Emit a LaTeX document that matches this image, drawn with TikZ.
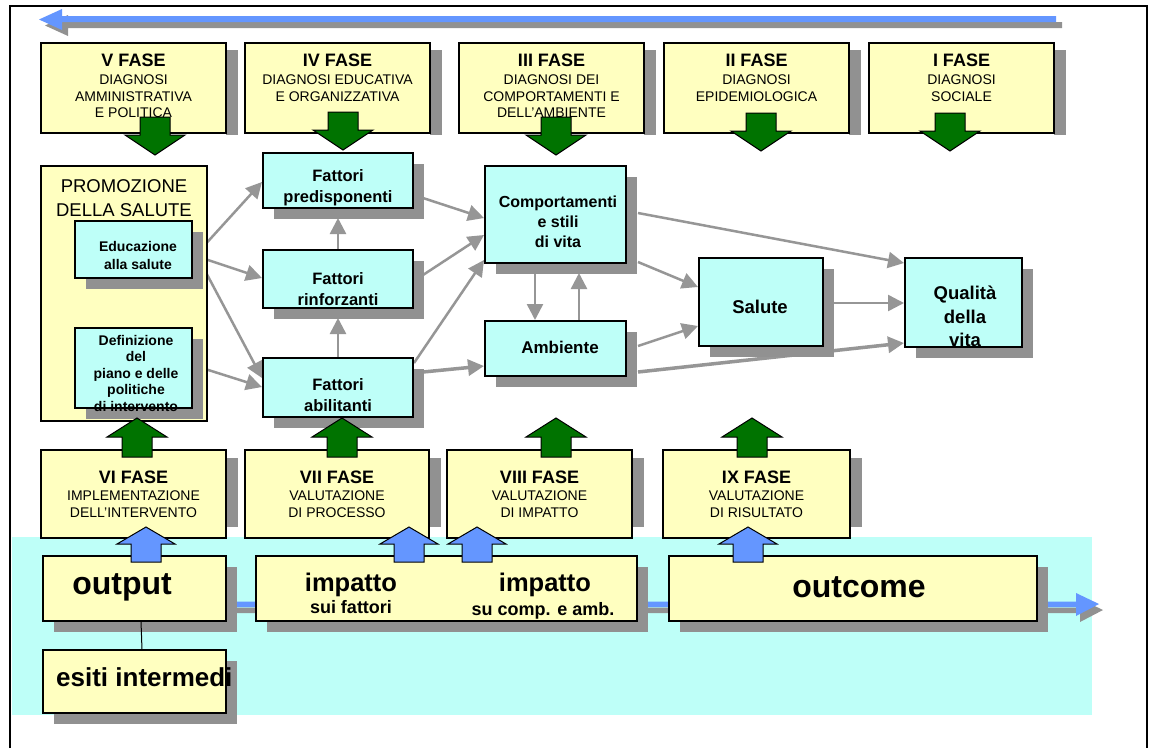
\documentclass[tikz,border=0pt]{standalone}
\usepackage{fontspec}
\setmainfont{Liberation Sans}
\usetikzlibrary{arrows.meta,calc,shadows}
\definecolor{yel}{RGB}{255,255,192}
\definecolor{cya}{RGB}{190,255,248}
\definecolor{shc}{RGB}{145,145,145}
\definecolor{arc}{RGB}{150,150,150}
\definecolor{grn}{RGB}{0,115,0}
\definecolor{blu}{RGB}{100,150,255}
\pgfdeclarelayer{bglayer}
\pgfdeclarelayer{edgelayer}
\pgfsetlayers{bglayer,edgelayer,main}
\newcommand\phT{\fontsize{18}{20}\selectfont\bfseries}
\newcommand\phS{\fontsize{14}{16.5}\selectfont}
\newcommand\mkbox[6]{\node[#1,anchor=north west,minimum width={#5-#3},minimum height={#6-#4}] (#2) at (#3,#4) {};}
\tikzset{
  ybox/.style={draw=black, fill=yel, line width=1.5pt, inner sep=0pt, outer sep=0pt},
  ysbox/.style={ybox, drop shadow={shadow xshift=11pt, shadow yshift=-11pt, fill=shc, opacity=1}},
  cbox/.style={draw=black, fill=cya, line width=1.5pt, inner sep=0pt, outer sep=0pt,
     drop shadow={shadow xshift=11pt, shadow yshift=-11pt, fill=shc, opacity=1}},
  txt/.style={inner sep=0pt, align=center},
  garr/.style={draw=arc, line width=2.5pt, -{Triangle[length=16pt,width=16pt]}},
  garrT/.style={garr, line width=3.5pt},
  gdown/.pic={\filldraw[fill=grn,draw=black,line width=1pt] (0,0) -- (-30,-20) -- (-15,-20) -- (-15,-38) -- (15,-38) -- (15,-20) -- (30,-20) -- cycle;},
  gup/.pic={\filldraw[fill=grn,draw=black,line width=1pt] (0,0) -- (30,19) -- (15,19) -- (15,39) -- (-15,39) -- (-15,19) -- (-30,19) -- cycle;},
  bup/.pic={\filldraw[fill=blu,draw=black,line width=1pt] (0,0) -- (29,17) -- (15,17) -- (15,35) -- (-15,35) -- (-15,17) -- (-29,17) -- cycle;}
}
\begin{document}
\begin{tikzpicture}[x=1pt,y=-1pt]
\useasboundingbox (0,0) rectangle (1151,748);
% background band and bottom arrow
\begin{pgfonlayer}{bglayer}
\fill[white] (0,0) rectangle (1151,748);
\fill[cya] (12,537) rectangle (1092,715);
\fill[shc,shift={(4,6)}] (200,601.5) -- (1076,601.5) -- (1076,593) -- (1099,604) -- (1076,616) -- (1076,607) -- (200,607) -- cycle;
\fill[blu] (200,601.5) -- (1076,601.5) -- (1076,593) -- (1099,604) -- (1076,616) -- (1076,607) -- (200,607) -- cycle;
\end{pgfonlayer}
% frame
\draw[line width=1.5pt] (10,748) -- (10,6) -- (1147,6) -- (1147,748);
% top blue arrow
\fill[shc,shift={(6,6)}] (1056,16) -- (62,16) -- (62,9) -- (39,19.5) -- (62,30) -- (62,22) -- (1056,22) -- cycle;
\fill[blu] (1056,16) -- (62,16) -- (62,9) -- (39,19.5) -- (62,30) -- (62,22) -- (1056,22) -- cycle;

% top phase boxes
\mkbox{ybox}{V}{41}{43}{226}{133}
\mkbox{ybox}{IV}{245}{43}{430}{133}
\mkbox{ybox}{III}{459}{43}{644}{133}
\mkbox{ybox}{II}{664}{43}{849}{133}
\mkbox{ybox}{I}{869}{43}{1054}{133}
\node[txt,font=\phT] (Vt) at (133.5,60) {V FASE};
\node[txt,font=\phS] (Vs) at (133.5,96.5) {DIAGNOSI\\AMMINISTRATIVA\\E POLITICA};
\node[txt,font=\phT] (IVt) at (337.5,60) {IV FASE};
\node[txt,font=\phS] (IVs) at (337.5,88.25) {DIAGNOSI EDUCATIVA\\E ORGANIZZATIVA};
\node[txt,font=\phT] (IIIt) at (551.5,60) {III FASE};
\node[txt,font=\phS] (IIIs) at (551.5,96.5) {DIAGNOSI DEI\\COMPORTAMENTI E\\DELL’AMBIENTE};
\node[txt,font=\phT] (IIt) at (756.5,60) {II FASE};
\node[txt,font=\phS] (IIs) at (756.5,88.25) {DIAGNOSI\\EPIDEMIOLOGICA};
\node[txt,font=\phT] (It) at (961.5,60) {I FASE};
\node[txt,font=\phS] (Is) at (961.5,88.25) {DIAGNOSI\\SOCIALE};

% promotion box
\mkbox{ybox}{promo}{41}{166}{207}{421}
\node[txt,font=\fontsize{18.5}{24}\selectfont] (promot) at (124,198) {PROMOZIONE\\DELLA SALUTE};
\mkbox{cbox}{edu}{75}{221}{192}{278}
\node[txt,font=\fontsize{14}{18}\selectfont\bfseries] (edut) at (138,255) {Educazione\\alla salute};
\mkbox{cbox}{def}{75}{328}{192}{408}
\node[txt,font=\fontsize{14}{16.5}\selectfont\bfseries] (deft) at (136,373) {Definizione\\del\\piano e delle\\politiche\\di intervento};

% fattori
\mkbox{cbox}{pred}{263}{153}{413}{208}
\node[txt,font=\fontsize{16.5}{21}\selectfont\bfseries] (predt) at (338,188) {Fattori\\predisponenti};
\mkbox{cbox}{rinf}{263}{250}{413}{308}
\node[txt,font=\fontsize{16.5}{21}\selectfont\bfseries] (rinft) at (338,289) {Fattori\\rinforzanti};
\mkbox{cbox}{abil}{263}{358}{413}{417}
\node[txt,font=\fontsize{16.5}{21}\selectfont\bfseries] (abilt) at (338,395) {Fattori\\abilitanti};

% middle / right
\mkbox{cbox}{comp}{485}{166}{626}{263}
\node[txt,font=\fontsize{16}{20}\selectfont\bfseries] (compt) at (558,222) {Comportamenti\\e stili\\di vita};
\mkbox{cbox}{amb}{485}{321}{626}{376}
\node[txt,font=\fontsize{17}{20}\selectfont\bfseries] (ambt) at (560,347) {Ambiente};
\mkbox{cbox}{sal}{699}{258}{823}{346}
\node[txt,font=\fontsize{18.5}{22}\selectfont\bfseries] (salt) at (760,307) {Salute};
\mkbox{cbox}{qual}{905}{258}{1022}{347}
\node[txt,font=\fontsize{18.5}{23.5}\selectfont\bfseries] (qualt) at (965,316.5) {Qualità\\della\\vita};

% lower phase boxes
\mkbox{ybox}{VI}{41}{450}{226}{538}
\mkbox{ybox}{VII}{245}{450}{429}{538}
\mkbox{ybox}{VIII}{447}{450}{632}{538}
\mkbox{ybox}{IX}{663}{450}{850}{538}
\node[txt,font=\phT] (VIt) at (133.5,477) {VI FASE};
\node[txt,font=\phS] (VIs) at (133.5,504) {IMPLEMENTAZIONE\\DELL’INTERVENTO};
\node[txt,font=\phT] (VIIt) at (337,477) {VII FASE};
\node[txt,font=\phS] (VIIs) at (337,504) {VALUTAZIONE\\DI PROCESSO};
\node[txt,font=\phT] (VIIIt) at (539.5,477) {VIII FASE};
\node[txt,font=\phS] (VIIIs) at (539.5,504) {VALUTAZIONE\\DI IMPATTO};
\node[txt,font=\phT] (IXt) at (756.5,477) {IX FASE};
\node[txt,font=\phS] (IXs) at (756.5,504) {VALUTAZIONE\\DI RISULTATO};

% bottom result boxes
\mkbox{ysbox}{out}{43}{556}{226}{621}
\node[txt,font=\fontsize{32}{34}\selectfont\bfseries] (outt) at (122,587) {output};
\mkbox{ysbox}{esiti}{43}{650}{226}{713}
\node[txt,anchor=west,font=\fontsize{26}{28}\selectfont\bfseries] (esitit) at (56,677) {esiti intermedi};
\mkbox{ysbox}{imp}{256}{556}{637}{621}
\node[txt,font=\fontsize{25.5}{28}\selectfont\bfseries] (imp1) at (351,585) {impatto};
\node[txt,font=\fontsize{18}{20}\selectfont\bfseries] (imp1s) at (351,607) {sui fattori};
\node[txt,font=\fontsize{25.5}{28}\selectfont\bfseries] (imp2) at (545,585) {impatto};
\node[txt,font=\fontsize{18}{20}\selectfont\bfseries] (imp2s) at (543,611) {su comp. e amb.};
\mkbox{ysbox}{outc}{669}{556}{1037}{621}
\node[txt,font=\fontsize{32}{34}\selectfont\bfseries] (outct) at (859,587) {outcome};
\draw[line width=1pt] ($(out.south west)+(98,0)$) -- ($(esiti.north west)+(99,0)$);

% phase box shadow strips and connectors
\begin{pgfonlayer}{edgelayer}
\foreach \n in {V,IV,III,II,I}
  \fill[shc] ($(\n.north east)+(0,7)$) rectangle ($(\n.south east)+(12,2)$);
\foreach \n in {VI,VII,VIII,IX}
  \fill[shc] ($(\n.north east)+(0,8)$) rectangle ($(\n.south east)+(12,-11)$);
\draw[garr] ($(edu.north east)+(10,27)$) -- ($(pred.north west)+(-1,29)$);
\draw[garr] ($(edu.north east)+(10,37)$) -- ($(rinf.north west)+(-1,28)$);
\draw[garr] ($(edu.north east)+(10,44)$) -- ($(abil.north west)+(-1,20)$);
\draw[garr] ($(def.north east)+(10,40)$) -- ($(abil.north west)+(-1,29)$);
\draw[garr] ($(edu.south west)+(50,11)$) -- ($(def.north west)+(50,-1)$);
\draw[garr] ($(def.north west)+(75,0)$) -- ($(edu.south west)+(75,10)$);
\draw[garr] ($(rinf.north west)+(75,0)$) -- ($(pred.south west)+(75,10)$);
\draw[garr] ($(abil.north west)+(75,0)$) -- ($(rinf.south west)+(75,10)$);
\draw[garr] ($(pred.north east)+(10,45)$) -- ($(comp.north west)+(-1,52)$);
\draw[garr] ($(rinf.north east)+(10,25)$) -- ($(comp.north west)+(-1,69)$);
\draw[garr] ($(abil.north east)+(1,5)$) -- ($(comp.north west)+(-1,94)$);
\draw[garrT] ($(abil.north east)+(10,14)$) -- ($(amb.north west)+(-1,45)$);
\draw[garr] ($(comp.south west)+(50,10)$) -- ($(amb.north west)+(50,-1)$);
\draw[garr] ($(amb.north west)+(94,0)$) -- ($(comp.south west)+(94,10)$);
\draw[garr] ($(comp.north east)+(12,96)$) -- ($(sal.north west)+(-1,29)$);
\draw[garr] ($(amb.north east)+(12,25)$) -- ($(sal.north west)+(-1,68)$);
\draw[garr] ($(comp.north east)+(12,47)$) -- ($(qual.north west)+(-1,5)$);
\draw[garr] ($(sal.north east)+(11,45)$) -- ($(qual.north west)+(-1,45)$);
\draw[garrT] ($(amb.north east)+(12,51)$) -- ($(qual.north west)+(-1,85)$);
\end{pgfonlayer}

% green block arrows (top, pointing down)
\pic at (155,155) {gdown};
\pic at (343,150) {gdown};
\pic at (556,155) {gdown};
\pic at (761,151) {gdown};
\pic at (950,151) {gdown};
% green block arrows (pointing up)
\pic at (137,418) {gup};
\pic at (342,418) {gup};
\pic at (556,418) {gup};
\pic at (752,418) {gup};
% blue block arrows
\pic at (146,527) {bup};
\pic at (409,527) {bup};
\pic at (477,527) {bup};
\pic at (748,527) {bup};
\end{tikzpicture}
\end{document}
